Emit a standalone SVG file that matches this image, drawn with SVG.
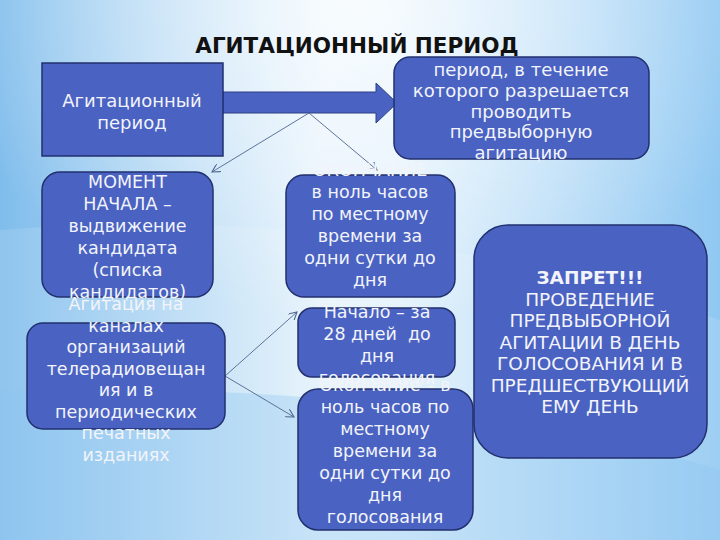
<svg xmlns="http://www.w3.org/2000/svg" width="720" height="540" viewBox="0 0 720 540">
<defs>
<linearGradient id="bg" x1="0" y1="0" x2="1" y2="0">
<stop offset="0" stop-color="#80bdec"/>
<stop offset="0.45" stop-color="#e6f3fc"/>
<stop offset="0.55" stop-color="#e3f2fc"/>
<stop offset="1" stop-color="#90c8f2"/>
</linearGradient>
<radialGradient id="hl" cx="0.5" cy="0" r="0.6">
<stop offset="0" stop-color="#ffffff" stop-opacity="0.7"/>
<stop offset="1" stop-color="#ffffff" stop-opacity="0"/>
</radialGradient>
<marker id="ah" viewBox="0 0 10 10" refX="9" refY="5" markerWidth="9" markerHeight="9" orient="auto" markerUnits="userSpaceOnUse">
<path d="M0,0 L9,5 L0,10" fill="none" stroke="#4f6590" stroke-width="1.2"/>
</marker>
<style>
.box{fill:#4a62c2;stroke:#22306f;stroke-width:1.5}
.t{font-family:"DejaVu Sans",sans-serif;font-size:17.5px;fill:#f2f4fa;text-anchor:middle}
.t18{font-size:18px}
.t19{font-size:18.5px}
.b{font-weight:bold}
.title{font-family:"DejaVu Sans",sans-serif;font-weight:bold;font-size:21.5px;fill:#111;text-anchor:middle}
.ln{fill:none;stroke:#4f6590;stroke-width:0.9;marker-end:url(#ah)}
</style>
</defs>
<rect width="720" height="540" fill="url(#bg)"/>
<rect width="720" height="540" fill="url(#hl)"/>
<path d="M0,230 Q360,200 720,320 L720,540 L0,540 Z" fill="#ffffff" fill-opacity="0.12"/>
<path d="M0,390 Q420,380 720,470 L720,540 L0,540 Z" fill="#8cc6f0" fill-opacity="0.35"/>

<text class="title" x="357" y="53">АГИТАЦИОННЫЙ ПЕРИОД</text>

<g id="connectors">
<path d="M223,92 L376,92 L376,83 L397,103 L376,123 L376,113 L223,113 Z" fill="#4a62c2" stroke="#2d3f85" stroke-width="1"/>
<line class="ln" x1="309" y1="113" x2="212" y2="172"/>
<line class="ln" x1="309" y1="113" x2="377" y2="170"/>
<line class="ln" x1="225" y1="376" x2="297" y2="312"/>
<line class="ln" x1="225" y1="376" x2="294" y2="417"/>
</g>

<g id="n-agit">
<rect class="box" x="42" y="63" width="181" height="93"/>
<text class="t t18" x="132" y="107">Агитационный</text>
<text class="t t18" x="132" y="129">период</text>
</g>

<g id="n-period">
<rect class="box" x="394" y="57" width="255" height="102" rx="16"/>
<text class="t t18" x="521" y="76">период, в течение</text>
<text class="t t18" x="521" y="97">которого разрешается</text>
<text class="t t18" x="521" y="118">проводить</text>
<text class="t t18" x="521" y="138">предвыборную</text>
<text class="t t18" x="521" y="159">агитацию</text>
</g>

<g id="n-moment">
<rect class="box" x="42" y="172" width="171" height="125" rx="18"/>
<text class="t" x="127.5" y="188">МОМЕНТ</text>
<text class="t" x="127.5" y="210">НАЧАЛА –</text>
<text class="t" x="127.5" y="232">выдвижение</text>
<text class="t" x="127.5" y="254">кандидата</text>
<text class="t" x="127.5" y="276">(списка</text>
<text class="t" x="127.5" y="298">кандидатов)</text>
</g>

<g id="n-end1">
<rect class="box" x="286" y="175" width="169" height="122" rx="18"/>
<text class="t" x="370" y="176">ОКОНЧАНИЕ</text>
<text class="t" x="370" y="198">в ноль часов</text>
<text class="t" x="370" y="220">по местному</text>
<text class="t" x="370" y="242">времени за</text>
<text class="t" x="370" y="264">одни сутки до</text>
<text class="t" x="370" y="286">дня</text>
</g>

<g id="n-media">
<rect class="box" x="27" y="323" width="198" height="106" rx="16"/>
<text class="t" x="126" y="310">Агитация на</text>
<text class="t" x="126" y="331.5">каналах</text>
<text class="t" x="126" y="353">организаций</text>
<text class="t" x="126" y="374.5">телерадиовещан</text>
<text class="t" x="126" y="396">ия и в</text>
<text class="t" x="126" y="417.5">периодических</text>
<text class="t" x="126" y="439">печатных</text>
<text class="t" x="126" y="460.5">изданиях</text>
</g>

<g id="n-start">
<rect class="box" x="298" y="308" width="157" height="69" rx="14"/>
<text class="t" x="377" y="318">Начало – за</text>
<text class="t" x="377" y="340">28 дней&#160; до</text>
<text class="t" x="377" y="362">дня</text>
<text class="t" x="377" y="384">голосования</text>
</g>

<g id="n-end2">
<rect class="box" x="298" y="389" width="175" height="141" rx="20"/>
<text class="t" x="385" y="391">Окончание – в</text>
<text class="t" x="385" y="413">ноль часов по</text>
<text class="t" x="385" y="435">местному</text>
<text class="t" x="385" y="457">времени за</text>
<text class="t" x="385" y="479">одни сутки до</text>
<text class="t" x="385" y="501">дня</text>
<text class="t" x="385" y="523">голосования</text>
</g>

<g id="n-ban">
<rect class="box" x="474" y="225" width="233" height="233" rx="34"/>
<text class="t t19 b" x="590" y="284">ЗАПРЕТ!!!</text>
<text class="t t19" x="590" y="305.5">ПРОВЕДЕНИЕ</text>
<text class="t t19" x="590" y="327">ПРЕДВЫБОРНОЙ</text>
<text class="t t19" x="590" y="348.5">АГИТАЦИИ В ДЕНЬ</text>
<text class="t t19" x="590" y="370">ГОЛОСОВАНИЯ И В</text>
<text class="t t19" x="590" y="391.5">ПРЕДШЕСТВУЮЩИЙ</text>
<text class="t t19" x="590" y="413">ЕМУ ДЕНЬ</text>
</g>
</svg>
